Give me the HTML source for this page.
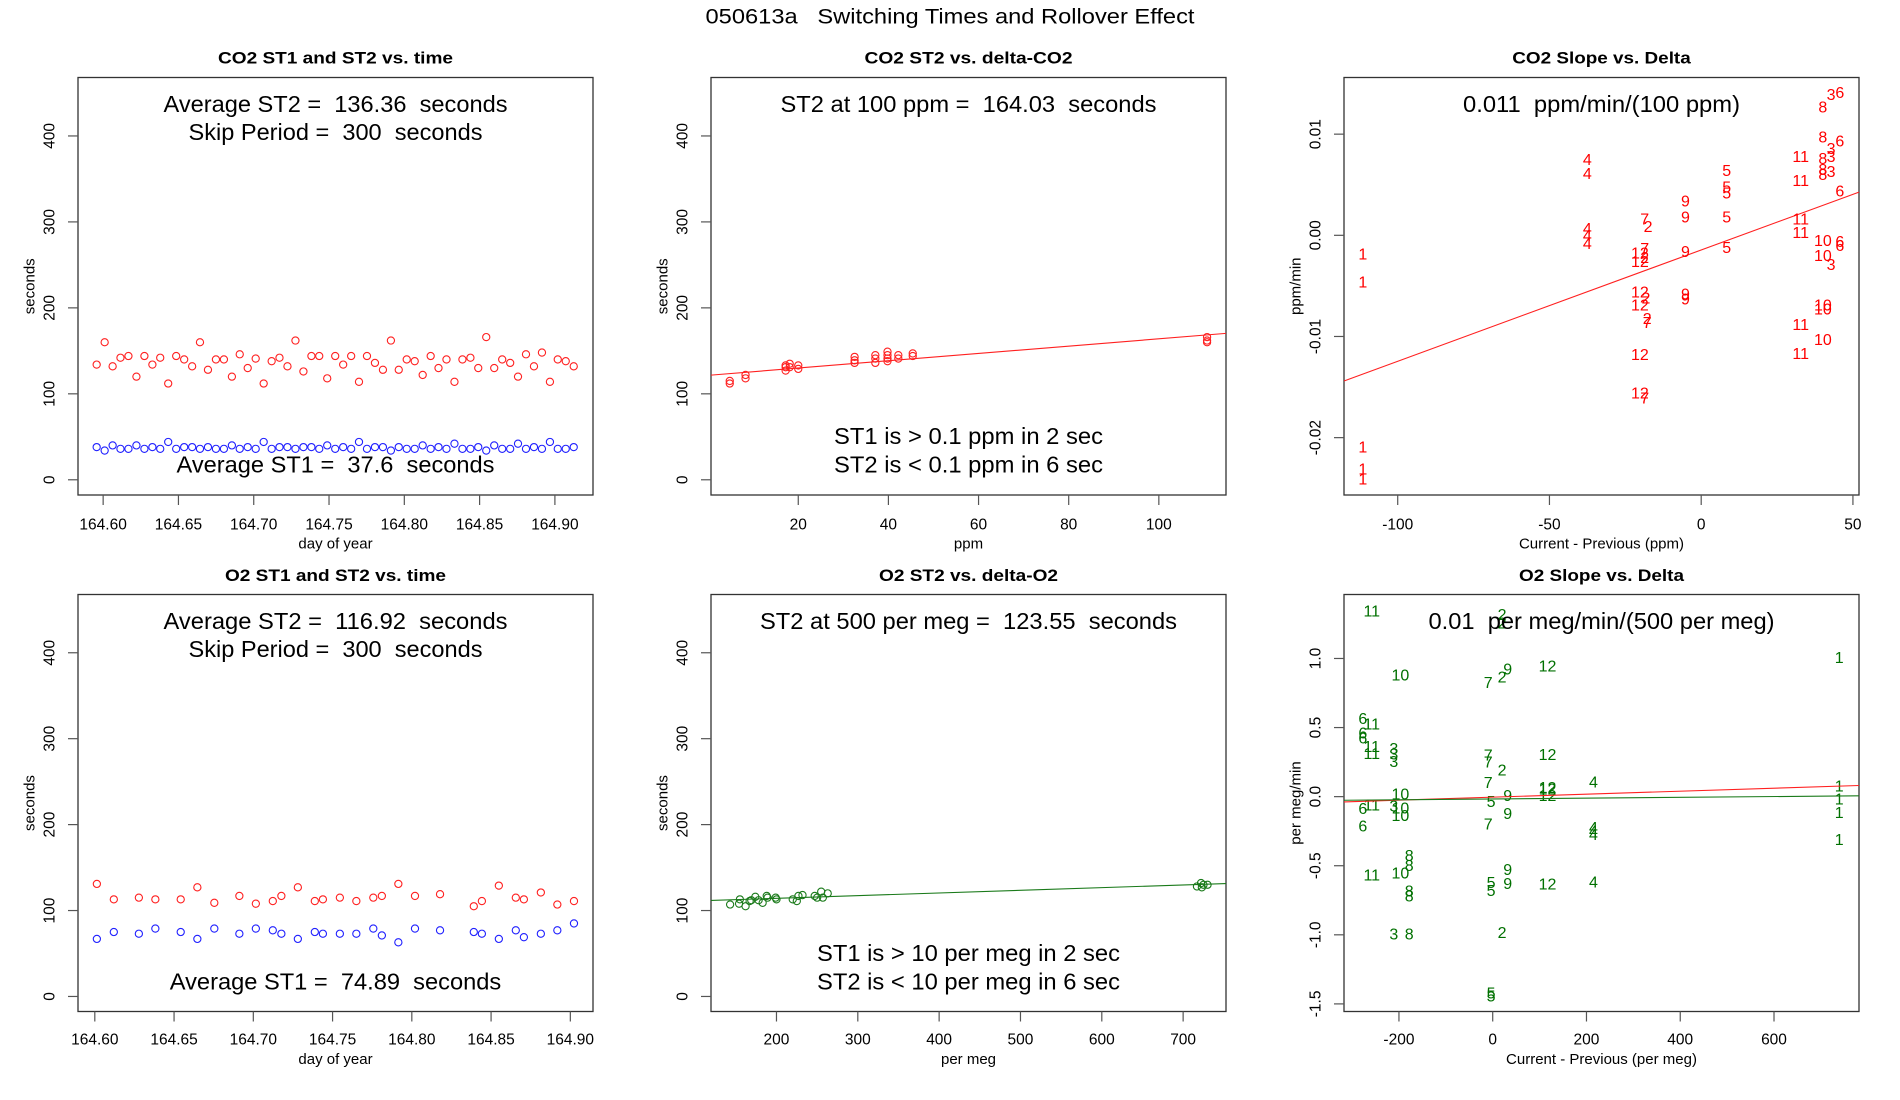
<!DOCTYPE html>
<html><head><meta charset="utf-8"><style>
html,body{margin:0;padding:0;background:#fff;}
svg{display:block;font-family:"Liberation Sans",Arial,sans-serif;}
svg text{white-space:pre;}
</style></head><body>
<svg id="chart" width="1900" height="1100" viewBox="0 0 1900 1100" xml:space="preserve">
<rect x="0" y="0" width="1900" height="1100" fill="#fff"/>
<text x="950" y="17" text-anchor="middle" dominant-baseline="central" font-size="21" textLength="489" lengthAdjust="spacingAndGlyphs">050613a   Switching Times and Rollover Effect</text>
</svg>
<script>
// ---- Panel 1: CO2 ST1/ST2 vs time ----
const co2Times = [164.5957,164.6010,164.6063,164.6115,164.6168,164.6221,164.6274,164.6327,164.6379,164.6432,164.6485,164.6538,164.6591,164.6643,164.6696,164.6749,164.6802,164.6855,164.6907,164.6960,164.7013,164.7066,164.7119,164.7171,164.7224,164.7277,164.7330,164.7383,164.7435,164.7488,164.7541,164.7594,164.7647,164.7699,164.7752,164.7805,164.7858,164.7911,164.7963,164.8016,164.8069,164.8122,164.8175,164.8227,164.8280,164.8333,164.8386,164.8439,164.8491,164.8544,164.8597,164.8650,164.8703,164.8755,164.8808,164.8861,164.8914,164.8967,164.9019,164.9072,164.9125];
const co2ST2 = [134,160,132,142,144,120,144,134,142,112,144,140,132,160,128,140,140,120,146,130,141,112,138,142,132,162,126,144,144,118,144,134,144,114,144,136,128,162,128,140,138,122,144,130,140,114,140,142,130,166,130,140,136,120,146,132,148,114,140,138,132];
const co2ST1 = [38,34,40,36,36,40,36,38,36,44,36,38,38,36,38,36,36,40,36,38,36,44,36,38,38,36,38,38,36,40,36,38,36,44,36,38,38,34,38,36,36,40,36,38,36,42,36,36,38,34,40,36,36,42,36,38,36,44,36,36,38];
const timeTicks = [164.60,164.65,164.70,164.75,164.80,164.85,164.90];
const timeTickLabels = ["164.60","164.65","164.70","164.75","164.80","164.85","164.90"];
const secTicks = [0,100,200,300,400];
// ---- Panel 4: O2 ST1/ST2 vs time ----
const o2Times = [164.6013,164.6120,164.6278,164.6382,164.6542,164.6647,164.6754,164.6912,164.7016,164.7123,164.7177,164.7281,164.7388,164.7439,164.7546,164.7650,164.7757,164.7811,164.7915,164.8020,164.8178,164.8391,164.8442,164.8549,164.8656,164.8707,164.8814,164.8918,164.9023];
const o2ST2 = [131,113,115,113,113,127,109,117,108,111,117,127,111,113,115,111,115,117,131,117,119,105,111,129,115,113,121,107,111];
const o2ST1 = [67,75,73,79,75,67,79,73,79,77,73,67,75,73,73,73,79,71,63,79,77,75,73,67,77,69,73,77,85];
// ---- Panel 2: CO2 ST2 vs delta ----
const co2Delta = [4.8,4.8,8.3,8.3,17.2,17.2,17.2,18.1,18.1,20,20,32.5,32.5,32.5,37.1,37.1,37.1,39.8,39.8,39.8,39.8,42.2,42.2,45.4,45.4,110.7,110.7,110.7];
const co2DeltaST2 = [115,112,122,118,127,131,133,135,131,133,129,143,139,136,145,141,136,149,145,141,138,145,141,147,144,166,162,160];
const co2FitST2 = [121.5,0.425];
const ppmTicks = [20,40,60,80,100];
// ---- Panel 5: O2 ST2 vs delta ----
const o2Delta = [143,154,155,162,167,169,174,178,183,188,189,200,199,220,225,227,232,247,250,255,257,263,717,722,723,725,730];
const o2DeltaST2 = [107,108,113,105,111,112,116,112,109,117,115,113,115,113,111,117,118,117,115,122,115,120,128,132,127,130,130];
const o2FitST2 = [108.0,0.0311];
const permegTicks = [200,300,400,500,600,700];
// ---- Panel 3: CO2 slope vs delta ----
const co2SlopeLabels = ["1","1","1","1","1","4","4","4","4","4","7","2","12","7","12","2","12","2","12","2","7","12","12","7","9","9","9","9","9","5","5","5","5","5","11","11","11","11","11","11","8","3","6","8","3","6","8","3","8","3","8","6","10","6","6","10","3","10","10","10"];
const co2SlopeX = [-111.5,-111.5,-111.5,-111.5,-111.5,-37.5,-37.5,-37.5,-37.5,-37.5,-18.6,-17.5,-20.2,-18.6,-20.2,-18.6,-20.2,-18.2,-20.2,-17.8,-17.8,-20.2,-20.2,-18.6,-5.2,-5.2,-5.2,-5.2,-5.2,8.4,8.4,8.4,8.4,8.4,32.8,32.8,32.8,32.8,32.8,32.8,40.1,42.8,45.7,40.1,42.8,45.7,40.1,42.8,40.1,42.8,40.1,45.7,40.1,45.7,45.7,40.1,42.8,40.1,40.1,40.1];
const co2SlopeY = [-0.00193,-0.00473,-0.0210,-0.0232,-0.0242,0.0074,0.0060,0.00058,-0.00012,-0.0009,0.0015,0.00076,-0.00185,-0.00142,-0.0027,-0.0023,-0.0057,-0.0063,-0.0070,-0.0083,-0.0087,-0.0119,-0.0157,-0.0162,0.0033,0.0017,-0.0017,-0.0059,-0.0064,0.0063,0.0047,0.0041,0.0017,-0.0013,0.0077,0.0053,0.0015,0.0002,-0.0089,-0.0118,0.0126,0.0138,0.0140,0.0096,0.0085,0.0092,0.0075,0.0077,0.0064,0.0062,0.0059,0.0043,-0.0006,-0.0007,-0.0011,-0.0021,-0.0030,-0.0070,-0.0074,-0.0104];
const co2SlopeFit = [-0.00145,0.00011];
const co2SlopeXTicks = [-100,-50,0,50];
const co2SlopeYTicks = [-0.02,-0.01,0.00,0.01];
const co2SlopeYTickLabels = ["-0.02","-0.01","0.00","0.01"];
// ---- Panel 6: O2 slope vs delta ----
const o2SlopeLabels = ["11","2","2","10","7","2","9","12","1","6","11","6","6","11","3","11","3","3","7","7","2","12","7","4","12","12","12","1","10","9","5","1","6","11","3","10","10","9","1","7","6","4","4","4","1","8","8","9","11","10","5","9","12","4","8","8","5","3","8","2","5","5"];
const o2SlopeX = [-258,20,20,-197,-9.5,20,32,117,739,-277,-258,-277,-277,-258,-211,-258,-211,-211,-9.5,-9.5,20,117,-9.5,215,117,117,117,739,-197,32,-3.5,739,-277,-258,-211,-197,-197,32,739,-9.5,-277,215,215,215,739,-178,-178,32,-258,-197,-3.5,32,117,215,-178,-178,-3.5,-211,-178,20,-3.5,-3.5];
const o2SlopeY = [1.338,1.31,1.25,0.872,0.82,0.86,0.915,0.94,1.0,0.56,0.52,0.455,0.417,0.355,0.343,0.305,0.30,0.248,0.293,0.243,0.186,0.298,0.094,0.098,0.06,0.049,0.0,0.068,0.011,0.0,-0.043,-0.026,-0.093,-0.068,-0.076,-0.088,-0.143,-0.13,-0.123,-0.205,-0.218,-0.23,-0.255,-0.28,-0.317,-0.435,-0.505,-0.535,-0.575,-0.56,-0.63,-0.637,-0.64,-0.625,-0.69,-0.725,-0.685,-1.0,-1.0,-0.99,-1.43,-1.45];
const o2SlopeFitRed = [-0.0037,0.000108];
const o2SlopeFitGreen = [-0.0168,0.0000291];
const o2SlopeXTicks = [-200,0,200,400,600];
const o2SlopeYTicks = [-1.5,-1.0,-0.5,0.0,0.5,1.0];
const o2SlopeYTickLabels = ["-1.5","-1.0","-0.5","0.0","0.5","1.0"];

const NS = "http://www.w3.org/2000/svg";
const svg = document.getElementById("chart");
function mk(tag, attrs, parent, txt) {
  const e = document.createElementNS(NS, tag);
  for (const k in attrs) e.setAttribute(k, attrs[k]);
  if (txt !== undefined) e.textContent = txt;
  (parent || svg).appendChild(e);
  return e;
}
const COLS = [0, 633, 1266];
const ROWS = [{top:77.5,bot:495,title:58,tick:525,xlab:544},{top:594.5,bot:1011.5,title:575.5,tick:1040,xlab:1059.5}];

function panel(name, col, row, xdom, ydom) {
  const r = ROWS[row];
  const L = COLS[col] + 78, R = COLS[col] + 593;
  const g = mk("g", {});
  
  
  const sx = v => L + (v - xdom[0]) / (xdom[1] - xdom[0]) * (R - L);
  const sy = v => r.bot - (v - ydom[0]) / (ydom[1] - ydom[0]) * (r.bot - r.top);
  return {g, L, R, r, sx, sy, cx: (L + R) / 2};
}
function frame(p, title, titleW, xlab, ylab, xticks, xlabels, yticks, ylabels) {
  const t = mk("text", {x:p.cx, y:p.r.title, "text-anchor":"middle", "dominant-baseline":"central", "font-size":17, "font-weight":"bold", textLength:titleW, lengthAdjust:"spacingAndGlyphs"}, p.g, title);
  
  
  const box = mk("rect", {x:p.L, y:p.r.top, width:p.R-p.L, height:p.r.bot-p.r.top, fill:"none", stroke:"#333", "stroke-width":1.3}, p.g);
  
  
  xticks.forEach((v,i) => {
    const x = p.sx(v);
    const tk = mk("line", {x1:x, x2:x, y1:p.r.bot, y2:p.r.bot+10, stroke:"#555", "stroke-width":1.2}, p.g);
    
    
    const lb = mk("text", {x:x, y:p.r.tick, "text-anchor":"middle", "dominant-baseline":"central", "font-size":15.5}, p.g, xlabels ? xlabels[i] : String(v));
    
    
  });
  yticks.forEach((v,i) => {
    const y = p.sy(v);
    const tk = mk("line", {x1:p.L-10, x2:p.L, y1:y, y2:y, stroke:"#555", "stroke-width":1.2}, p.g);
    
    
    const tx = p.L - 28;
    const lb = mk("text", {x:tx, y:y, "text-anchor":"middle", "dominant-baseline":"central", "font-size":15.5, transform:`rotate(-90 ${tx} ${y})`}, p.g, ylabels ? ylabels[i] : String(v));
    
    
  });
  const xl = mk("text", {x:p.cx, y:p.r.xlab, "text-anchor":"middle", "dominant-baseline":"central", "font-size":15}, p.g, xlab);
  
  
  const yx = p.L - 48, yy = (p.r.top + p.r.bot) / 2;
  const yl = mk("text", {x:yx, y:yy, "text-anchor":"middle", "dominant-baseline":"central", "font-size":15, transform:`rotate(-90 ${yx} ${yy})`}, p.g, ylab);
  
  
}
function note(p, y, txt, w, name) {
  const t = mk("text", {x:p.cx, y:y, "text-anchor":"middle", "dominant-baseline":"central", "font-size":23, textLength:w, lengthAdjust:"spacingAndGlyphs"}, p.g, txt);
  
  
}
function circles(p, xs, ys, color, name) {
  xs.forEach((v,i) => {
    const c = mk("circle", {cx:p.sx(v), cy:p.sy(ys[i]), r:3.6, fill:"none", stroke:color, "stroke-width":1.1}, p.g);
    
    
  });
}
function fitLine(p, xdom, fit, color, name, w) {
  const a = xdom[0], b = xdom[1];
  const l = mk("line", {x1:p.sx(a), y1:p.sy(fit[0]+fit[1]*a), x2:p.sx(b), y2:p.sy(fit[0]+fit[1]*b), stroke:color, "stroke-width":w||1.1}, p.g);
  
  
}
function labels(p, xs, ys, labs, color, name) {
  xs.forEach((v,i) => {
    const t = mk("text", {x:p.sx(v), y:p.sy(ys[i]), "text-anchor":"middle", "dominant-baseline":"central", "font-size":16, fill:color}, p.g, labs[i]);
    
    
  });
}

// Panel 1
{
  const xd=[164.5833,164.9253], yd=[-17.7,468];
  const p = panel("co2-time-panel",0,0,xd,yd);
  frame(p,"CO2 ST1 and ST2 vs. time",235,"day of year","seconds",timeTicks,timeTickLabels,secTicks);
  circles(p,co2Times,co2ST2,"#ff2020","co2-st2-point");
  circles(p,co2Times,co2ST1,"#2020ff","co2-st1-point");
  note(p,104,"Average ST2 =  136.36  seconds",344,"average-st2-note");
  note(p,132,"Skip Period =  300  seconds",294,"skip-period-note");
  note(p,464.5,"Average ST1 =  37.6  seconds",318,"average-st1-note");
}
// Panel 2
{
  const xd=[0.64,114.9], yd=[-17.7,468];
  const p = panel("co2-delta-panel",1,0,xd,yd);
  frame(p,"CO2 ST2 vs. delta-CO2",208,"ppm","seconds",ppmTicks,null,secTicks);
  fitLine(p,xd,co2FitST2,"#ff2020","co2-st2-fit-line");
  circles(p,co2Delta,co2DeltaST2,"#ff2020","co2-delta-point");
  note(p,104,"ST2 at 100 ppm =  164.03  seconds",376,"st2-at-100ppm-note");
  note(p,436,"ST1 is > 0.1 ppm in 2 sec",269,"st1-threshold-note");
  note(p,464.5,"ST2 is < 0.1 ppm in 6 sec",269,"st2-threshold-note");
}
// Panel 3
{
  const xd=[-117.7,52.0], yd=[-0.02567,0.0156];
  const p = panel("co2-slope-panel",2,0,xd,yd);
  frame(p,"CO2 Slope vs. Delta",178.5,"Current - Previous (ppm)","ppm/min",co2SlopeXTicks,null,co2SlopeYTicks,co2SlopeYTickLabels);
  fitLine(p,xd,co2SlopeFit,"#ff2020","co2-slope-fit-line");
  labels(p,co2SlopeX,co2SlopeY,co2SlopeLabels,"#ff0000","co2-slope-label");
  note(p,104,"0.011  ppm/min/(100 ppm)",277,"co2-slope-note");
}
// Panel 4
{
  const xd=[164.5894,164.9143], yd=[-17.5,467.8];
  const p = panel("o2-time-panel",0,1,xd,yd);
  frame(p,"O2 ST1 and ST2 vs. time",221,"day of year","seconds",timeTicks,timeTickLabels,secTicks);
  circles(p,o2Times,o2ST2,"#ff2020","o2-st2-point");
  circles(p,o2Times,o2ST1,"#2020ff","o2-st1-point");
  note(p,621,"Average ST2 =  116.92  seconds",344,"average-st2-note");
  note(p,649,"Skip Period =  300  seconds",294,"skip-period-note");
  note(p,981.5,"Average ST1 =  74.89  seconds",331.5,"average-st1-note");
}
// Panel 5
{
  const xd=[119.5,752.7], yd=[-17.5,467.8];
  const p = panel("o2-delta-panel",1,1,xd,yd);
  frame(p,"O2 ST2 vs. delta-O2",179,"per meg","seconds",permegTicks,null,secTicks);
  fitLine(p,xd,o2FitST2,"#1a7a1a","o2-st2-fit-line");
  circles(p,o2Delta,o2DeltaST2,"#1a7a1a","o2-delta-point");
  note(p,621,"ST2 at 500 per meg =  123.55  seconds",417,"st2-at-500permeg-note");
  note(p,953,"ST1 is > 10 per meg in 2 sec",303,"st1-threshold-note");
  note(p,981.5,"ST2 is < 10 per meg in 6 sec",303,"st2-threshold-note");
}
// Panel 6
{
  const xd=[-317.2,781.3], yd=[-1.555,1.463];
  const p = panel("o2-slope-panel",2,1,xd,yd);
  frame(p,"O2 Slope vs. Delta",165,"Current - Previous (per meg)","per meg/min",o2SlopeXTicks,null,o2SlopeYTicks,o2SlopeYTickLabels);
  labels(p,o2SlopeX,o2SlopeY,o2SlopeLabels,"#007000","o2-slope-label");
  fitLine(p,xd,o2SlopeFitRed,"#ff2020","o2-slope-fit-red");
  fitLine(p,xd,o2SlopeFitGreen,"#1a7a1a","o2-slope-fit-green");
  note(p,621,"0.01  per meg/min/(500 per meg)",346,"o2-slope-note");
}
</script>
</body></html>
